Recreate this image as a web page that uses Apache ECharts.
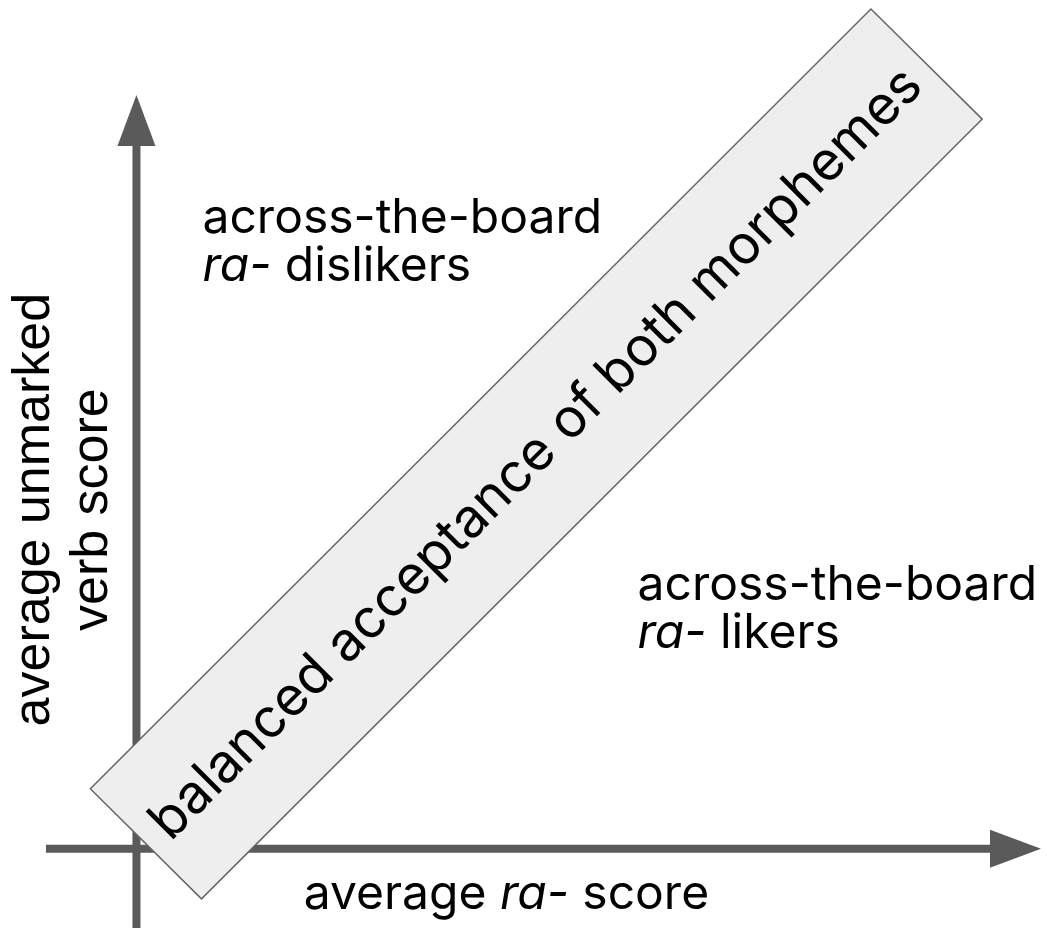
<!DOCTYPE html>
<html>
<head>
<meta charset="utf-8">
<script src="https://cdn.jsdelivr.net/npm/echarts@6/dist/echarts.min.js"></script>
<style>
html,body{margin:0;padding:0;background:#fff;}
#chart{width:1047px;height:929px;}
</style>
</head>
<body>
<div id="chart"></div>
<script>
// Conceptual axes extents (data units)
const xExtent = [-0.1, 1.0];
const yExtent = [-0.105, 1.0];
// Axis segments: [x1, y1, x2, y2] (arrow at second point)
const axisSegments = [
  [xExtent[0], 0, xExtent[1], 0],
  [0, yExtent[0], 0, yExtent[1]]
];
// Diagonal "balanced" band corners (data units)
const bandCorners = [
  [-0.051, 0.0796],
  [0.0719, -0.0663],
  [0.935, 0.968],
  [0.812, 1.114]
];
const bandLabel = 'balanced acceptance of both morphemes';
// Region labels: [x, y] anchor (left-middle of block) and texts
const regionAnchors = [
  [0.073, 0.804],
  [0.554, 0.317]
];
const regionTexts = [
  'across-the-board\n{i|ra-} dislikers',
  'across-the-board\n{i|ra-} likers'
];
// Axis titles
const xTitlePos = [0.409, -0.061];
const xTitle = 'average {i|ra-} score';
const yTitlePos = [-0.0807, 0.45];
const yTitle = 'average unmarked\nverb score';

const AXIS_COLOR = '#5a5a5a';
const FONT = 'Inter, "Noto Sans", sans-serif';
const LABEL_SIZE = 48;

const chart = echarts.init(document.getElementById('chart'), null, {renderer: 'canvas'});

function arrowRender(params, api) {
  const p1 = api.coord([api.value(0), api.value(1)]);
  const p2 = api.coord([api.value(2), api.value(3)]);
  const dx = p2[0] - p1[0], dy = p2[1] - p1[1];
  const len = Math.sqrt(dx * dx + dy * dy);
  const ux = dx / len, uy = dy / len;
  const headLen = 51, headHalf = 19;
  const bx = p2[0] - ux * headLen, by = p2[1] - uy * headLen;
  return {
    type: 'group',
    children: [
      {
        type: 'line',
        shape: {x1: p1[0], y1: p1[1], x2: bx + ux * 2, y2: by + uy * 2},
        style: {stroke: AXIS_COLOR, lineWidth: 8}
      },
      {
        type: 'polygon',
        shape: {points: [
          [p2[0], p2[1]],
          [bx - uy * headHalf, by + ux * headHalf],
          [bx + uy * headHalf, by - ux * headHalf]
        ]},
        style: {fill: AXIS_COLOR}
      }
    ]
  };
}

function bandRender(params, api) {
  const pts = bandCorners.map(c => api.coord(c));
  let cx = 0, cy = 0;
  pts.forEach(p => { cx += p[0]; cy += p[1]; });
  cx /= pts.length; cy /= pts.length;
  const ang = Math.atan2(-(pts[2][1] - pts[1][1]), pts[2][0] - pts[1][0]);
  return {
    type: 'group',
    children: [
      {
        type: 'polygon',
        shape: {points: pts},
        style: {fill: '#eeeeee', stroke: '#666666', lineWidth: 1.5}
      },
      {
        type: 'text',
        x: cx, y: cy,
        rotation: ang,
        style: {
          text: bandLabel,
          fill: '#000',
          fontFamily: FONT,
          fontSize: 54,
          align: 'center',
          verticalAlign: 'middle'
        }
      }
    ]
  };
}

function labelRender(params, api) {
  const p = api.coord([api.value(0), api.value(1)]);
  const idx = api.value(2);
  return {
    type: 'text',
    x: p[0], y: p[1],
    style: {
      text: regionTexts[idx],
      fill: '#000',
      fontFamily: FONT,
      fontSize: LABEL_SIZE,
      lineHeight: 48,
      align: 'left',
      verticalAlign: 'middle',
      rich: {i: {fontStyle: 'italic', fontFamily: FONT, fontSize: LABEL_SIZE, lineHeight: 48}}
    }
  };
}

function titleRender(params, api) {
  const p = api.coord([api.value(0), api.value(1)]);
  const idx = api.value(2);
  if (idx === 0) {
    return {
      type: 'text', x: p[0], y: p[1],
      style: {
        text: xTitle, fill: '#000', fontFamily: FONT, fontSize: LABEL_SIZE,
        align: 'center', verticalAlign: 'middle',
        rich: {i: {fontStyle: 'italic', fontFamily: FONT, fontSize: LABEL_SIZE}}
      }
    };
  }
  return {
    type: 'text', x: p[0], y: p[1], rotation: Math.PI / 2,
    style: {
      text: yTitle, fill: '#000', fontFamily: '"Liberation Sans", Arial, sans-serif',
      fontSize: 52, lineHeight: 58,
      align: 'center', verticalAlign: 'middle'
    }
  };
}

chart.setOption({
  animation: false,
  backgroundColor: '#ffffff',
  grid: {left: 46, right: 6, top: 95, bottom: 1, containLabel: false},
  xAxis: {type: 'value', min: xExtent[0], max: xExtent[1], show: false},
  yAxis: {type: 'value', min: yExtent[0], max: yExtent[1], show: false},
  series: [
    {type: 'custom', clip: false, silent: true, renderItem: arrowRender, data: axisSegments, encode: {x: [0, 2], y: [1, 3]}, z: 1},
    {type: 'custom', clip: false, silent: true, renderItem: bandRender, data: [[0, 0]], z: 2},
    {type: 'custom', clip: false, silent: true, renderItem: labelRender,
      data: regionAnchors.map((a, i) => [a[0], a[1], i]), z: 3},
    {type: 'custom', clip: false, silent: true, renderItem: titleRender,
      data: [[xTitlePos[0], xTitlePos[1], 0], [yTitlePos[0], yTitlePos[1], 1]], z: 3}
  ]
});
</script>
</body>
</html>
